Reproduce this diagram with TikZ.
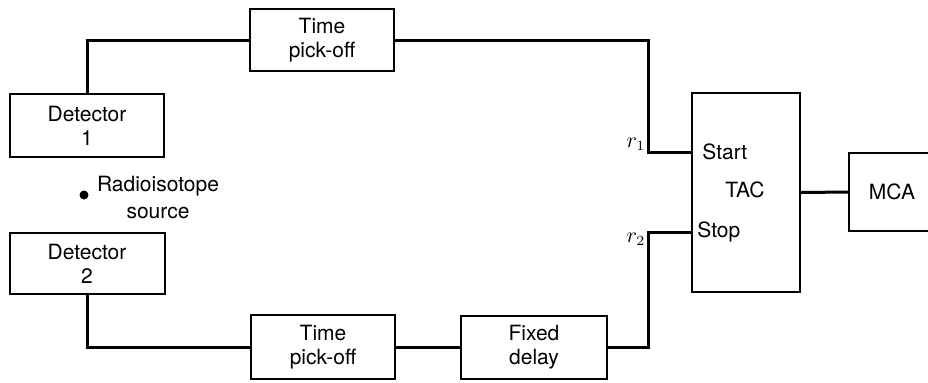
\documentclass[tikz,border=0pt]{standalone}
\usepackage{fontspec}
\setmainfont{TeX Gyre Heros}
\begin{document}
\begin{tikzpicture}[x=0.5pt, y=-0.5pt, font=\fontsize{10.5}{12}\selectfont,
  box/.style={draw, line width=1pt, align=center, inner sep=0pt},
  wire/.style={line width=1.5pt}]
\clip (0,0) rectangle (928,382);
\node[box, minimum width=77pt, minimum height=31.5pt] (det1) at (87,125.5) {Detector\\1};
\node[box, minimum width=77.5pt, minimum height=30.5pt] (det2) at (87,263.5) {Detector\\2};
\node[box, minimum width=72pt, minimum height=31pt] (pick1) at (322,40) {Time\\pick-off};
\node[box, minimum width=72pt, minimum height=32pt] (pick2) at (323,347) {Time\\pick-off};
\node[box, minimum width=73pt, minimum height=31.5pt] (delay) at (534,347) {Fixed\\delay};
\node[box, minimum width=54pt, minimum height=99.5pt] (tac) at (746,192.5) {};
\node[box, minimum width=70pt, minimum height=39pt] (mca) at (919,192) {};
\node at (745,190) {TAC};
\node at (892,192) {MCA};
\node[circle, fill, inner sep=0pt, minimum size=4.5pt] (src) at (84,195) {};
\node[align=center] (srclabel) at (158,197) {Radioisotope\\[1.5pt]source};
\coordinate (r1) at (648,152);
\coordinate (r2) at (648,232);
\coordinate (start) at (692,152);
\coordinate (stop) at (692,232);
\node[anchor=west, inner sep=0pt] at ([xshift=5pt]start) {Start};
\node[anchor=west, inner sep=0pt] at ([xshift=2.5pt]stop) {Stop};
\node at (636,144) {$r_1$};
\node at (636,239) {$r_2$};
\draw[wire] (det1.north) |- (pick1.west);
\draw[wire] (pick1.east) -| (r1) -- (start);
\draw[wire] (tac.east) -- (mca.west);
\draw[wire] (det2.south) |- (pick2.west);
\draw[wire] (pick2.east) -- (delay.west);
\draw[wire] (delay.east) -| (r2) -- (stop);
\end{tikzpicture}
\end{document}
